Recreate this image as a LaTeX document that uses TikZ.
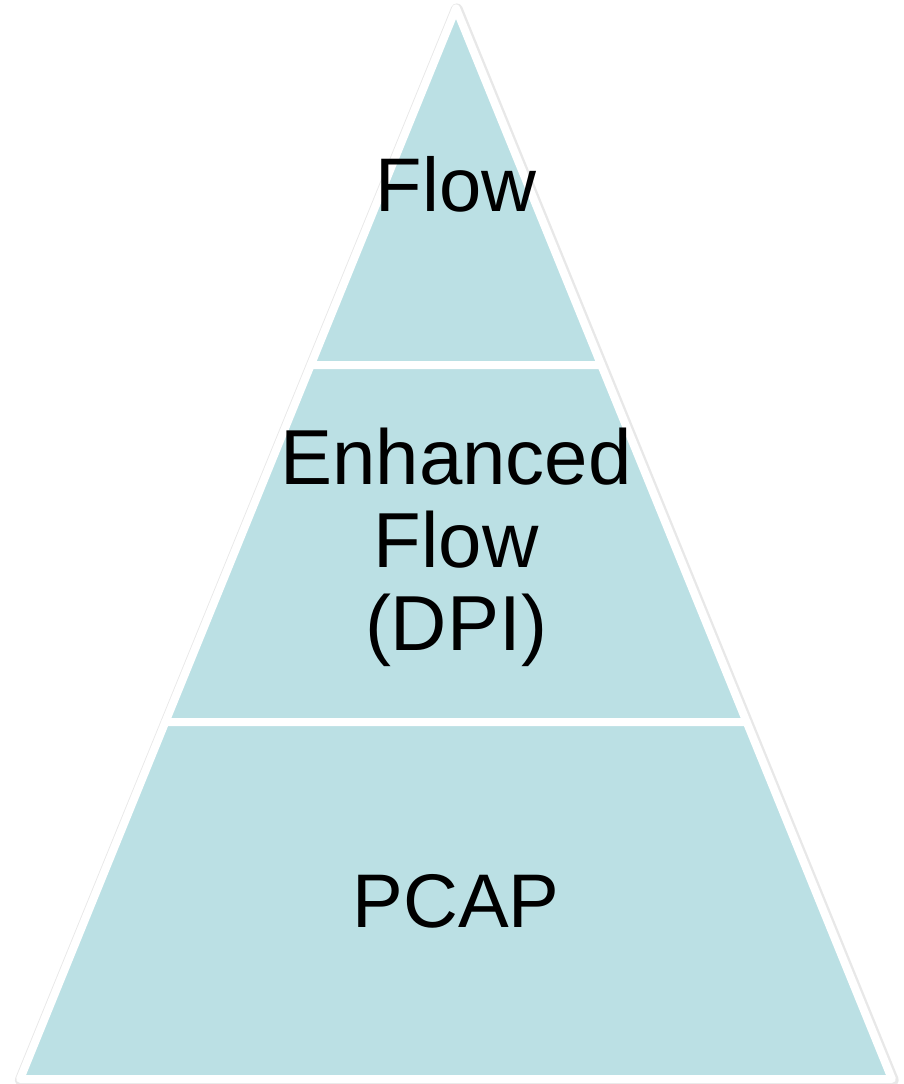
\documentclass[tikz,border=0pt]{standalone}
\usepackage{fontspec}
\setmainfont{Liberation Sans}
\definecolor{pyrfill}{RGB}{187,224,228}
\begin{document}
\begin{tikzpicture}[x=1pt,y=-1pt,
        band/.style={fill=pyrfill,draw=white,line width=8pt,line join=round},
        softshade/.style={draw=black!9,line width=12pt,line join=round},
        layertext/.style={font=\fontsize{76}{83}\selectfont,align=center,anchor=base}]
        \useasboundingbox (0,0) rectangle (903,1084);
        % faint shadow round the whole pyramid
        \draw[softshade,shift={(0.8,1)}] (456,8.4) -- (891.9,1079) -- (20.1,1079) -- cycle;
        % the three layers, top to bottom
        \draw[band] (456,8.4) -- (601.2,365) -- (310.8,365) -- cycle;
        \draw[band] (310.8,365) -- (601.2,365) -- (746.6,722) -- (165.4,722) -- cycle;
        \draw[band] (165.4,722) -- (746.6,722) -- (891.9,1079) -- (20.1,1079) -- cycle;
        \node[layertext] (flow) at (456,211) {Flow};
        % base of a multi-line node is its last line
        \node[layertext,font=\fontsize{78}{83}\selectfont] (enhanced) at (456,650) {Enhanced\\Flow\\(DPI)};
        \node[layertext] (pcap) at (456,927) {PCAP};
    \end{tikzpicture}
\end{document}
